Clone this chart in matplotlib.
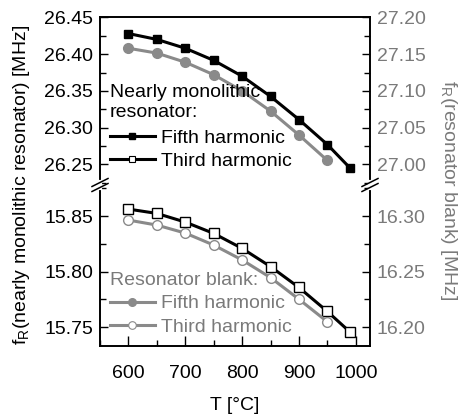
import matplotlib
matplotlib.use("Agg")
import matplotlib.pyplot as plt
from matplotlib.lines import Line2D
from matplotlib.ticker import MultipleLocator, FormatStrFormatter

plt.rcParams['font.family'] = ['Liberation Sans', 'DejaVu Sans']
plt.rcParams['font.size'] = 14

# Data
T5 = [600, 650, 700, 750, 800, 850, 900, 950, 990]
T_blank = [600, 650, 700, 750, 800, 850, 900, 950]
mono_fifth = [26.428, 26.420, 26.408, 26.3915, 26.370, 26.3425, 26.311, 26.277, 26.245]
mono_third = [15.8563, 15.8524, 15.8446, 15.8344, 15.8209, 15.8045, 15.7857, 15.7641, 15.7455]
blank_fifth = [27.158, 27.1514, 27.139, 27.122, 27.100, 27.0725, 27.040, 27.0054]
blank_third = [16.2964, 16.2919, 16.2847, 16.2739, 16.2605, 16.2446, 16.2251, 16.2048]

GRAY = '#8a8a8a'
TGRAY = '#7a7a7a'
FS = 14
W, H = 469, 417
fig = plt.figure(figsize=(W/100, H/100), dpi=100)

xl, xr = 100/W, 370/W
ytop, ybrk, ybot = 1-17/H, 1-185/H, 1-346/H
ax_t = fig.add_axes([xl, ybrk, xr-xl, ytop-ybrk])
ax_b = fig.add_axes([xl, ybot, xr-xl, ybrk-ybot])
ax_tr = ax_t.twinx()
ax_br = ax_b.twinx()

lw = 2.2
ax_t.plot(T5, mono_fifth, color='black', lw=lw, marker='s', ms=6, mfc='black', mec='black', zorder=3)
ax_b.plot(T5, mono_third, color='black', lw=lw, marker='s', ms=6.5, mfc='white', mec='black', mew=1.0, zorder=3)
ax_tr.plot(T_blank, blank_fifth, color=GRAY, lw=lw, marker='o', ms=7, mfc=GRAY, mec=GRAY)
ax_br.plot(T_blank, blank_third, color=GRAY, lw=lw, marker='o', ms=7, mfc='white', mec=GRAY, mew=1.0)

for a in (ax_t, ax_b, ax_tr, ax_br):
    a.set_xlim(550, 1025)
    a.patch.set_visible(False)

ax_t.set_ylim(26.222, 26.4505)
ax_tr.set_ylim(26.972, 27.2005)
ax_b.set_ylim(15.733, 15.878)
ax_br.set_ylim(16.183, 16.328)

for a in (ax_t, ax_tr):
    a.spines['bottom'].set_visible(False)
    a.tick_params(axis='x', which='both', bottom=False, top=False, labelbottom=False)
for a in (ax_b, ax_br):
    a.spines['top'].set_visible(False)

ax_b.xaxis.set_major_locator(MultipleLocator(100))
ax_b.xaxis.set_minor_locator(MultipleLocator(50))
ax_b.tick_params(axis='x', which='major', direction='in', length=7, width=1.0, top=False, labelsize=FS, pad=14)
ax_b.tick_params(axis='x', which='minor', direction='in', length=4, width=1.0, top=False)
ax_br.tick_params(axis='x', which='both', bottom=False, top=False, labelbottom=False)

for a, col in ((ax_t, 'black'), (ax_b, 'black'), (ax_tr, TGRAY), (ax_br, TGRAY)):
    a.yaxis.set_major_locator(MultipleLocator(0.05))
    a.yaxis.set_minor_locator(MultipleLocator(0.025))
    a.yaxis.set_major_formatter(FormatStrFormatter('%.2f'))
    a.tick_params(axis='y', which='major', direction='in', length=6, width=1.0, labelsize=FS, labelcolor=col, pad=5)
    a.tick_params(axis='y', which='minor', direction='in', length=4, width=1.0)
    for s in a.spines.values():
        s.set_linewidth(1.2)

ax_t.set_yticks([26.25, 26.30, 26.35, 26.40, 26.45])
ax_tr.set_yticks([27.00, 27.05, 27.10, 27.15, 27.20])
ax_b.set_yticks([15.75, 15.80, 15.85])
ax_br.set_yticks([16.20, 16.25, 16.30])

# break marks
def brk(xpix):
    fig.add_artist(Line2D([xpix/W, xpix/W], [1-182.5/H, 1-187.5/H], color='white', lw=3,
                          transform=fig.transFigure, zorder=9))
    for dy in (-2.5, 2.5):
        y0 = 185 + dy
        fig.add_artist(Line2D([(xpix-8)/W, (xpix+8)/W], [1-(y0+4)/H, 1-(y0-4)/H],
                              color='black', lw=1.1, transform=fig.transFigure, zorder=10))
brk(100)
brk(370)

# legends
h1 = Line2D([], [], color='black', lw=lw, marker='s', ms=5, mfc='black', mec='black')
h2 = Line2D([], [], color='black', lw=lw, marker='s', ms=5, mfc='white', mec='black', mew=0.8)
leg1 = fig.legend([h1, h2], ['Fifth harmonic', 'Third harmonic'], title='Nearly monolithic\nresonator:',
                  loc='upper left', bbox_to_anchor=(110/W, 1-84/H), frameon=False, alignment='left',
                  handlelength=2.3, handletextpad=0.3, labelspacing=0.3, borderpad=0, borderaxespad=0,
                  fontsize=FS, title_fontsize=FS)
leg1._legend_box.sep = 6
h3 = Line2D([], [], color=GRAY, lw=lw, marker='o', ms=5.5, mfc=GRAY, mec=GRAY)
h4 = Line2D([], [], color=GRAY, lw=lw, marker='o', ms=5.5, mfc='white', mec=GRAY, mew=0.8)
leg2 = fig.legend([h3, h4], ['Fifth harmonic', 'Third harmonic'], title='Resonator blank:',
                  loc='upper left', bbox_to_anchor=(110/W, 1-272/H), frameon=False, alignment='left',
                  handlelength=2.3, handletextpad=0.3, labelspacing=0.3, borderpad=0, borderaxespad=0,
                  fontsize=FS, title_fontsize=FS)
for t in leg2.get_texts():
    t.set_color(TGRAY)
leg2.get_title().set_color(TGRAY)

fig.text(22/W, 1-185/H, r'f$_{\mathregular{R}}$(nearly monolithic resonator) [MHz]', rotation=90,
         ha='center', va='center', fontsize=FS)
fig.text(448/W, 1-190/H, r'f$_{\mathregular{R}}$(resonator blank) [MHz]', rotation=270,
         ha='center', va='center', fontsize=FS, color=TGRAY)
fig.text(235/W, 1-406/H, 'T [°C]', ha='center', va='center', fontsize=FS)

fig.savefig('out.png', dpi=100)
